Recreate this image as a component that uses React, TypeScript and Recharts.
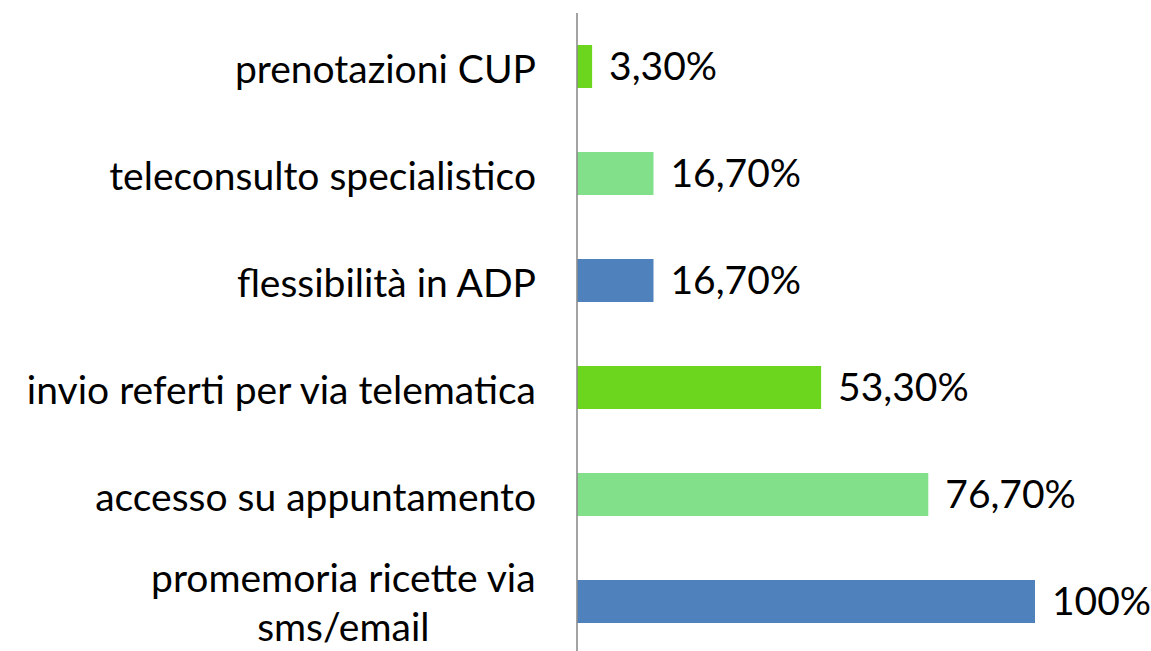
import React from 'react';
import { BarChart, Bar, XAxis, YAxis, Cell, LabelList } from 'recharts';

const categories = [
  'prenotazioni CUP',
  'teleconsulto specialistico',
  'flessibilità in ADP',
  'invio referti per via telematica',
  'accesso su appuntamento',
  'promemoria ricette via\nsms/email',
];

const percentages = [3.3, 16.7, 16.7, 53.3, 76.7, 100];

const barColors = ['#6CD61E', '#82E08B', '#4F81BD', '#6CD61E', '#82E08B', '#4F81BD'];

const data = categories.map((name, i) => ({ name, value: percentages[i] }));

const FONT = 'Lato, "Noto Sans", sans-serif';
const FONT_SIZE = 39;

let ctx: CanvasRenderingContext2D | null = null;
const measure = (text: string) => {
  if (!ctx) ctx = document.createElement('canvas').getContext('2d');
  if (!ctx) return text.length * FONT_SIZE * 0.5;
  ctx.font = `${FONT_SIZE}px Lato`;
  return ctx.measureText(text).width;
};

const formatPct = (v: number) =>
  Number.isInteger(v) ? `${v}%` : `${v.toFixed(2).replace('.', ',')}%`;

const CategoryTick = (props: any) => {
  const { x, y, payload } = props;
  const lines: string[] = String(payload.value).split('\n');

  if (lines.length === 1) {
    return (
      <text x={x} y={y + 1} textAnchor="end" dominantBaseline="central"
        fontFamily={FONT} fontSize={FONT_SIZE} fill="#000">
        {lines[0]}
      </text>
    );
  }

  // multi-line labels are centred on themselves, right-aligned as a block
  const widest = Math.max(...lines.map(measure));
  const cx = x - widest / 2;
  const lineHeight = 49;
  const start = y - ((lines.length - 1) * lineHeight) / 2;
  return (
    <text textAnchor="middle" dominantBaseline="central"
      fontFamily={FONT} fontSize={FONT_SIZE} fill="#000">
      {lines.map((l, i) => (
        <tspan key={i} x={cx} y={start + i * lineHeight}>{l}</tspan>
      ))}
    </text>
  );
};

export default function App() {
  return (
    <div style={{ position: 'absolute', left: 0, top: 0, width: 1151, height: 651, overflow: 'hidden', background: '#fff' }}>
      <BarChart
        width={1151}
        height={655}
        data={data}
        layout="vertical"
        margin={{ top: 13, right: 116, bottom: 0, left: 0 }}
        barCategoryGap={0}
      >
        <XAxis type="number" domain={[0, 100]} hide />
        <YAxis
          type="category"
          dataKey="name"
          width={577}
          axisLine={{ stroke: '#8C8C8C', strokeWidth: 1.6 }}
          tickLine={false}
          tickSize={0}
          tickMargin={41}
          tick={<CategoryTick />}
          interval={0}
        />
        <Bar dataKey="value" barSize={43} isAnimationActive={false}>
          {data.map((d, i) => (
            <Cell key={d.name} fill={barColors[i]} />
          ))}
          <LabelList
            dataKey="value"
            position="right"
            offset={17}
            formatter={(v: any) => formatPct(Number(v))}
            style={{ fontFamily: FONT, fontSize: FONT_SIZE, fill: '#000' }}
          />
        </Bar>
      </BarChart>
    </div>
  );
}
